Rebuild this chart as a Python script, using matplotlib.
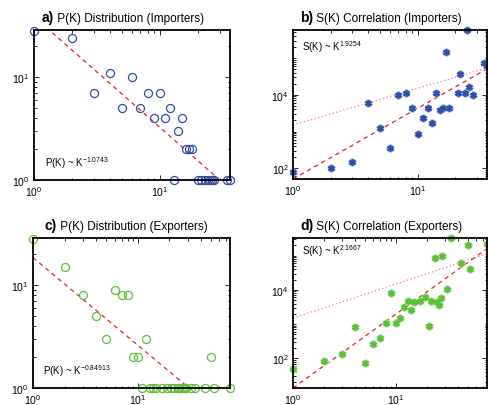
import numpy as np
import matplotlib
matplotlib.use("Agg")
import matplotlib.pyplot as plt
from matplotlib.ticker import LogLocator, NullFormatter, FixedLocator

plt.rcParams['font.family'] = ['Liberation Sans', 'DejaVu Sans']
plt.rcParams['mathtext.fontset'] = 'custom'
plt.rcParams['mathtext.rm'] = 'Liberation Sans'
plt.rcParams['mathtext.it'] = 'Liberation Sans:italic'
plt.rcParams['mathtext.bf'] = 'Liberation Sans:bold'

# ---- data ----
# a) P(K) importers
imp_pk_k = [1, 2, 3, 4, 5, 6, 7, 8, 9, 10, 11, 12, 13, 14, 15, 16, 17, 18,
            20, 21, 23, 24, 25, 26, 27, 34, 36]
imp_pk_p = [28, 24, 7, 11, 5, 10, 5, 7, 4, 7, 4, 5, 1, 3, 4, 2, 2, 2,
            1, 1, 1, 1, 1, 1, 1, 1, 1]

# b) S(K) importers
imp_sk_k = [1, 2, 3, 4, 5, 6, 7, 8, 9, 10, 11, 12, 13, 14, 15, 16, 17, 18,
            21, 22, 24, 25, 26, 28, 34, 36]
imp_sk_s = [81, 100, 146, 5900, 1250, 360, 10000, 11300, 4250, 840, 2330, 4250,
            1670, 11300, 3920, 4250, 147000, 4250, 11300, 36400, 11300, 580000,
            16500, 10000, 72400, 61200]

# c) P(K) exporters
exp_pk_k = [1, 2, 3, 4, 5, 6, 7, 8, 9, 10, 12, 50,
            11, 13, 14, 15, 17, 19, 21, 22, 24, 25, 26, 27, 28, 29, 32, 35, 44, 54, 76]
exp_pk_p = [28, 15, 8, 5, 3, 9, 8, 8, 2, 2, 3, 2,
            1, 1, 1, 1, 1, 1, 1, 1, 1, 1, 1, 1, 1, 1, 1, 1, 1, 1, 1]

# d) S(K) exporters
exp_sk_k = [1, 2, 3, 4, 5, 6, 7, 8, 9, 10, 11, 12, 13, 14, 15, 17, 19, 21, 22,
            24, 25, 26, 27, 28, 31, 34, 43, 50, 52, 76]
exp_sk_s = [48, 84, 137, 830, 75, 257, 385, 1110, 7990, 1110, 1510, 3100, 4870,
            2600, 4460, 4870, 6100, 900, 4870, 88300, 4460, 3640, 5700, 101000,
            10700, 330000, 60300, 207000, 42100, 217000]

# fitted power laws  (prefactor, exponent)
fit_a = (38.4, -1.0743)
fit_b = (51.0, 1.9254)
fit_c = (18.4, -0.84913)
fit_d = (13.5, 2.1667)
ref_line = (1500.0, 1.0)   # dotted reference S ~ K

BLUE = '#2f4fa6'
GREEN = '#5cbf3a'
RED = '#e8202a'
PINK = '#f27a86'

fig = plt.figure(figsize=(4.89, 4.06), dpi=100)
W, H = 489.0, 406.0


def make_axes(l, r, t, b):
    return fig.add_axes([l / W, 1 - b / H, (r - l) / W, (b - t) / H])


def style(ax, xlim, ylim, yticks):
    ax.set_xscale('log')
    ax.set_yscale('log')
    ax.set_xlim(*xlim)
    ax.set_ylim(*ylim)
    ax.xaxis.set_major_locator(FixedLocator([1, 10]))
    ax.yaxis.set_major_locator(FixedLocator(yticks))
    ax.xaxis.set_minor_locator(LogLocator(base=10, subs=np.arange(2, 10)))
    ax.yaxis.set_minor_locator(LogLocator(base=10, subs=np.arange(1, 10), numticks=20))
    ax.xaxis.set_minor_formatter(NullFormatter())
    ax.yaxis.set_minor_formatter(NullFormatter())
    ax.tick_params(which='both', direction='in', top=True, right=True,
                   labelsize=7.5, width=0.6)
    ax.tick_params(which='major', length=3.5, pad=3)
    ax.tick_params(which='minor', length=1.8)
    for s in ax.spines.values():
        s.set_linewidth(1.3)


def add_title(ax, tag, text, x0):
    t = ax.text(x0, 1.06, tag, transform=ax.transAxes, fontsize=10,
                fontweight='bold', va='baseline', ha='left')
    ax.annotate(' ' + text, xy=(1, 0), xycoords=t, fontsize=8.5,
                va='bottom', ha='left')


def fit_curve(ax, fit, xmax, ls, color):
    k = np.logspace(0, np.log10(xmax), 60)
    ax.plot(k, fit[0] * k ** fit[1], ls=ls, color=color, lw=0.9)


def stars(ax, k, s, color, halo):
    ax.plot(k, s, ls='none', marker=(6, 2, 0), ms=5.5, mew=2.2, color=halo, clip_on=False)
    ax.plot(k, s, ls='none', marker=(6, 2, 0), ms=4.8, mew=1.2, color=color, clip_on=False)


# a) P(K) importers
ax = make_axes(34, 230, 31, 181)
fit_curve(ax, fit_a, 36, (0, (3.5, 3)), RED)
ax.plot(imp_pk_k, imp_pk_p, ls='none', marker='o', ms=5.8, mfc='none',
        mec=BLUE, mew=0.9, clip_on=False)
style(ax, (1, 36), (1, 28.5), [1, 10])
add_title(ax, 'a)', 'P(K) Distribution (Importers)', 0.04)
ax.text(0.056, 0.09, r'P(K) ~ K$^{-1.0743}$', transform=ax.transAxes, fontsize=7)

# b) S(K) importers
ax = make_axes(293, 487, 31, 180)
fit_curve(ax, ref_line, 36, (0, (1, 2)), PINK)
fit_curve(ax, fit_b, 36, (0, (3.5, 3)), RED)
stars(ax, imp_sk_k, imp_sk_s, BLUE, '#a8b8e4')
style(ax, (1, 36), (51, 580000), [1e2, 1e4])
add_title(ax, 'b)', 'S(K) Correlation (Importers)', 0.036)
ax.text(0.046, 0.867, r'S(K) ~ K$^{1.9254}$', transform=ax.transAxes, fontsize=7)

# c) P(K) exporters
ax = make_axes(33, 230, 239, 389)
fit_curve(ax, fit_c, 76, (0, (3.5, 3)), RED)
ax.plot(exp_pk_k, exp_pk_p, ls='none', marker='o', ms=5.8, mfc='none',
        mec=GREEN, mew=0.9, clip_on=False)
style(ax, (1, 76), (1, 28.5), [1, 10])
add_title(ax, 'c)', 'P(K) Distribution (Exporters)', 0.06)
ax.text(0.05, 0.093, r'P(K) ~ K$^{-0.84913}$', transform=ax.transAxes, fontsize=7)

# d) S(K) exporters
ax = make_axes(293, 487, 239, 389)
fit_curve(ax, ref_line, 76, (0, (1, 2)), PINK)
fit_curve(ax, fit_d, 76, (0, (3.5, 3)), RED)
stars(ax, exp_sk_k, exp_sk_s, GREEN, '#b4e4a0')
style(ax, (1, 76), (13.5, 330000), [1e2, 1e4])
add_title(ax, 'd)', 'S(K) Correlation (Exporters)', 0.036)
ax.text(0.046, 0.893, r'S(K) ~ K$^{2.1667}$', transform=ax.transAxes, fontsize=7)

fig.savefig('out.png', dpi=100)
